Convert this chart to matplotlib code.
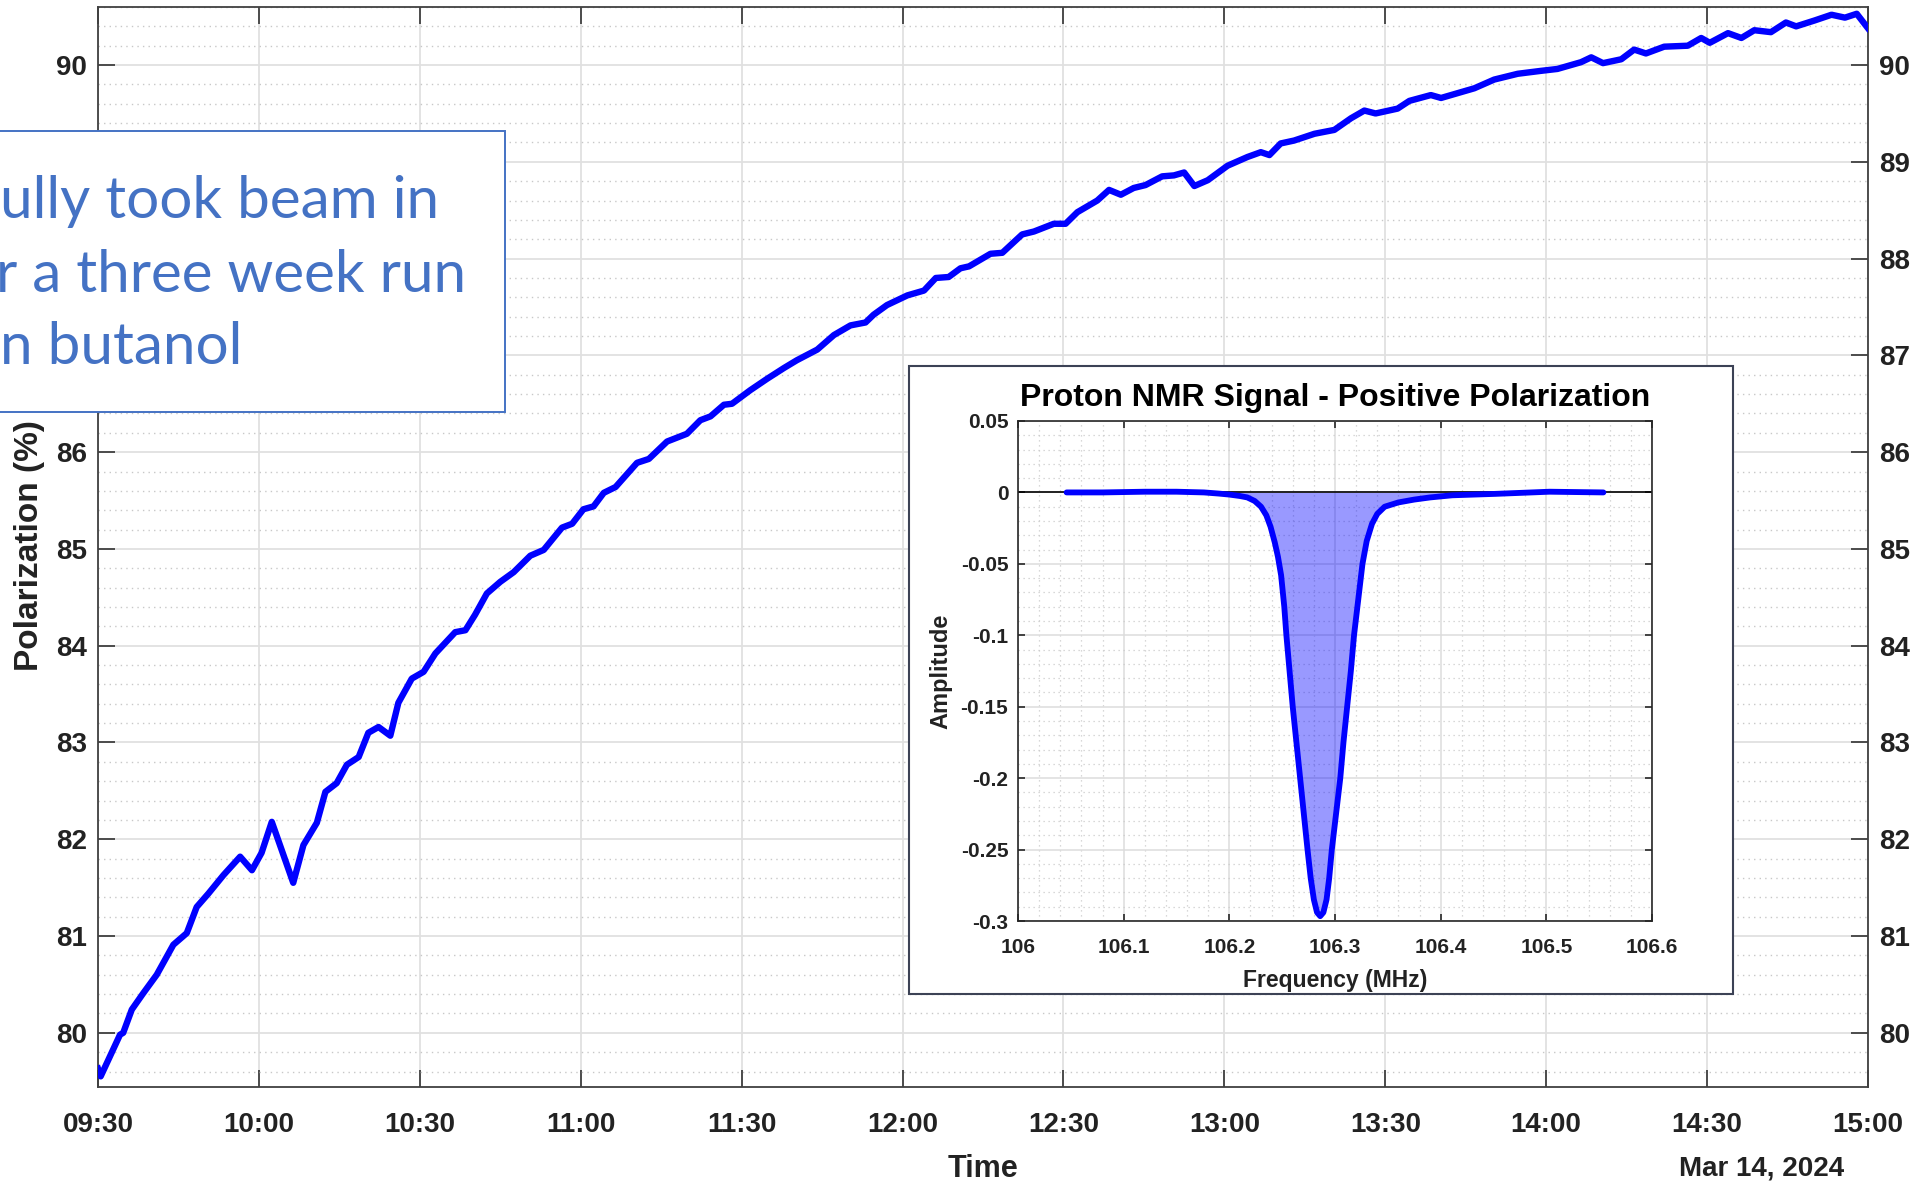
import matplotlib
matplotlib.use('Agg')
import matplotlib.pyplot as plt
import matplotlib.dates as mdates
from matplotlib.ticker import MultipleLocator, FuncFormatter
from matplotlib.patches import Rectangle
import pandas as pd

# polarization run, minutes after 09:30
minutes = [0, 0.5, 4.1, 4.7, 6.3, 8.45, 10.95, 14.05, 16.55, 18.4, 20.6, 23.4, 26.5, 28.7,
           30.5, 32.4, 36.4, 38.3, 40.8, 42.4, 44.5, 46.4, 48.6, 50.4, 52.3, 54.5, 56.0,
           58.5, 60.7, 62.9, 66.6, 68.5, 70.3, 72.5, 75.0, 77.5, 80.6, 83.1, 86.5, 88.4,
           90.5, 92.4, 94.3, 96.5, 100.5, 102.7, 106.1, 109.8, 112.3, 114.2, 116.7, 118.2,
           121.6, 124.8, 127.9, 130.3, 134.1, 137.2, 140.3, 143.1, 144.6, 147.1, 150.9,
           154.0, 156.2, 158.6, 160.8, 162.4, 166.4, 168.6, 172.3, 174.5, 178.2, 180.4,
           182.6, 186.3, 188.5, 190.7, 193.1, 195.3, 198.4, 200.6, 202.5, 204.4, 206.9,
           210.6, 214.3, 216.8, 218.4, 220.5, 223.0, 226.8, 230.5, 233.6, 236.1, 238.2,
           242.3, 244.5, 248.5, 250.4, 256.6, 260.3, 264.7, 269.0, 272.1, 276.5, 278.4,
           280.6, 284.0, 286.4, 288.6, 292.0, 296.4, 298.9, 300.5, 303.9, 306.4, 308.8,
           311.9, 314.7, 316.6, 320.0, 323.2, 325.7, 327.9, 330.0]
polarization = [79.63, 79.55, 79.98, 80.00, 80.24, 80.41, 80.60, 80.91, 81.03, 81.30, 81.44,
                81.63, 81.82, 81.68, 81.86, 82.18, 81.55, 81.94, 82.17, 82.49, 82.58, 82.77,
                82.85, 83.10, 83.16, 83.07, 83.41, 83.66, 83.73, 83.92, 84.14, 84.16, 84.32,
                84.54, 84.66, 84.76, 84.93, 84.99, 85.22, 85.26, 85.41, 85.44, 85.58, 85.64,
                85.89, 85.93, 86.11, 86.19, 86.33, 86.37, 86.49, 86.50, 86.64, 86.76, 86.87,
                86.95, 87.06, 87.21, 87.31, 87.34, 87.42, 87.52, 87.62, 87.67, 87.80, 87.81,
                87.90, 87.92, 88.05, 88.06, 88.25, 88.28, 88.36, 88.36, 88.48, 88.60, 88.71,
                88.66, 88.73, 88.76, 88.85, 88.86, 88.89, 88.75, 88.81, 88.96, 89.05, 89.10,
                89.07, 89.19, 89.22, 89.29, 89.33, 89.45, 89.53, 89.50, 89.55, 89.63, 89.69,
                89.66, 89.76, 89.85, 89.91, 89.94, 89.96, 90.03, 90.08, 90.02, 90.06, 90.16,
                90.12, 90.19, 90.20, 90.28, 90.23, 90.33, 90.28, 90.36, 90.34, 90.44, 90.40,
                90.46, 90.52, 90.49, 90.53, 90.38]

# NMR signal (inset)
freq_mhz = [106.046, 106.08, 106.12, 106.15, 106.176, 106.19, 106.2, 106.21, 106.217,
            106.224, 106.23, 106.235, 106.239, 106.243, 106.246, 106.249, 106.252, 106.254,
            106.257, 106.260, 106.2635, 106.267, 106.2705, 106.274, 106.277, 106.280,
            106.283, 106.286, 106.289, 106.292, 106.2945, 106.297, 106.301, 106.305,
            106.308, 106.3115, 106.315, 106.318, 106.322, 106.326, 106.330, 106.335,
            106.340, 106.347, 106.36, 106.375, 106.39, 106.411, 106.452, 106.503, 106.554]
amplitude = [0.0, 0.0, 0.0005, 0.0005, 0.0, -0.0008, -0.0015, -0.0025, -0.0035, -0.006,
             -0.010, -0.016, -0.024, -0.035, -0.045, -0.058, -0.08, -0.1, -0.125, -0.15,
             -0.175, -0.2, -0.225, -0.25, -0.27, -0.285, -0.294, -0.2966, -0.294, -0.285,
             -0.27, -0.25, -0.225, -0.2, -0.175, -0.15, -0.125, -0.1, -0.075, -0.05, -0.034,
             -0.022, -0.015, -0.010, -0.007, -0.005, -0.0035, -0.002, -0.001, 0.0005, 0.0]

note_lines = ['ully took beam in', 'r a three week run', 'n butanol']

plt.rcParams['font.family'] = ['Liberation Sans', 'DejaVu Sans']
plt.rcParams['font.weight'] = 'bold'

t0 = pd.Timestamp('2024-03-14 09:30')
times = t0 + pd.to_timedelta(minutes, unit='min')

fig = plt.figure(figsize=(19.32, 11.84), dpi=100)
W, H = 1932.0, 1184.0

ax = fig.add_axes([98 / W, 1 - 1087 / H, 1770 / W, 1080 / H])
ax.plot(times, polarization, color='#0000ff', lw=4.6, solid_joinstyle='round', zorder=3)
ax.set_xlim(t0, t0 + pd.Timedelta(minutes=330))
ax.set_ylim(79.44, 90.6)
ax.xaxis.set_major_locator(mdates.MinuteLocator(byminute=[0, 30]))
ax.xaxis.set_major_formatter(mdates.DateFormatter('%H:%M'))
ax.yaxis.set_major_locator(MultipleLocator(1))
ax.yaxis.set_minor_locator(MultipleLocator(0.2))
ax.grid(which='major', color='#e0e0e0', lw=1.3)
ax.grid(which='minor', axis='y', color='#c8c8c8', lw=1.0, ls=(0, (1, 3)))
ax.tick_params(which='major', direction='in', length=12, width=1.3, color='#404040',
               top=True, right=True, labelright=True, labelsize=20, labelcolor='#222222')
ax.tick_params(axis='x', pad=18)
ax.tick_params(axis='y', pad=8)
ax.tick_params(which='minor', length=0)
for s in ax.spines.values():
    s.set_color('#404040')
    s.set_linewidth(1.3)

fig.text(983 / W, 1 - 1169 / H, 'Time', ha='center', va='center', fontsize=22, color='#222222')
fig.text(1844 / W, 1 - 1169 / H, 'Mar 14, 2024', ha='right', va='center', fontsize=20,
         color='#222222')
fig.text(30 / W, 1 - 546 / H, 'Polarization (%)', rotation=90, ha='center', va='center',
         fontsize=24, color='#222222')

# inset frame
fig.add_artist(Rectangle((909 / W, 1 - 994 / H), 824 / W, 628 / H, transform=fig.transFigure,
                         facecolor='white', edgecolor='#3c4255', lw=1.5, zorder=4))

axin = fig.add_axes([1018 / W, 1 - 921 / H, 634 / W, 500 / H], zorder=5)
axin.fill_between(freq_mhz, amplitude, 0, color='#0000ff', alpha=0.4, lw=0, zorder=2)
axin.plot(freq_mhz, amplitude, color='#0000ff', lw=4.2, zorder=3,
          solid_joinstyle='round', solid_capstyle='round')
axin.axhline(0, color='black', lw=1.2, zorder=2.5)
axin.set_xlim(106, 106.6)
axin.set_ylim(-0.3, 0.05)
axin.xaxis.set_major_locator(MultipleLocator(0.1))
axin.xaxis.set_minor_locator(MultipleLocator(0.02))
axin.yaxis.set_major_locator(MultipleLocator(0.05))
axin.yaxis.set_minor_locator(MultipleLocator(0.01))
fmt = FuncFormatter(lambda v, p: f'{round(v, 3) + 0:g}')
axin.xaxis.set_major_formatter(fmt)
axin.yaxis.set_major_formatter(fmt)
axin.grid(which='major', color='#dcdcdc', lw=1.1)
axin.grid(which='minor', color='#cccccc', lw=0.9, ls=(0, (1, 3)))
axin.tick_params(which='major', direction='in', length=5, width=1.2, color='#262626',
                 top=True, right=True, labelsize=15, labelcolor='#222222')
axin.tick_params(axis='x', pad=12)
axin.tick_params(axis='y', pad=7)
axin.tick_params(which='minor', length=0)
for s in axin.spines.values():
    s.set_color('#262626')
    s.set_linewidth(1.2)
axin.set_title('Proton NMR Signal - Positive Polarization', fontsize=23, pad=11,
               fontweight='bold', color='black')
axin.text(0.5, (921 - 981) / 500, 'Frequency (MHz)', transform=axin.transAxes, ha='center',
          va='center', fontsize=16.5, color='#222222')
axin.text((941 - 1018) / 634, 0.5, 'Amplitude', transform=axin.transAxes, rotation=90,
          ha='center', va='center', fontsize=17, color='#222222')

# annotation box, cut off at the left edge
fig.add_artist(Rectangle((-0.01, 1 - 412 / H), 524 / W, 281 / H, transform=fig.transFigure,
                         facecolor='white', edgecolor='#4472c4', lw=1.4, zorder=6))
for i, (line, base) in enumerate(zip(note_lines, [218, 292, 364])):
    x0 = -4 / W if i == 1 else 0.0
    fig.text(x0, 1 - base / H, line, ha='left', va='baseline', fontsize=42,
             fontweight='normal', color='#4472c4', family=['Lato', 'DejaVu Sans'], zorder=7)

fig.savefig('out.png', dpi=100)
